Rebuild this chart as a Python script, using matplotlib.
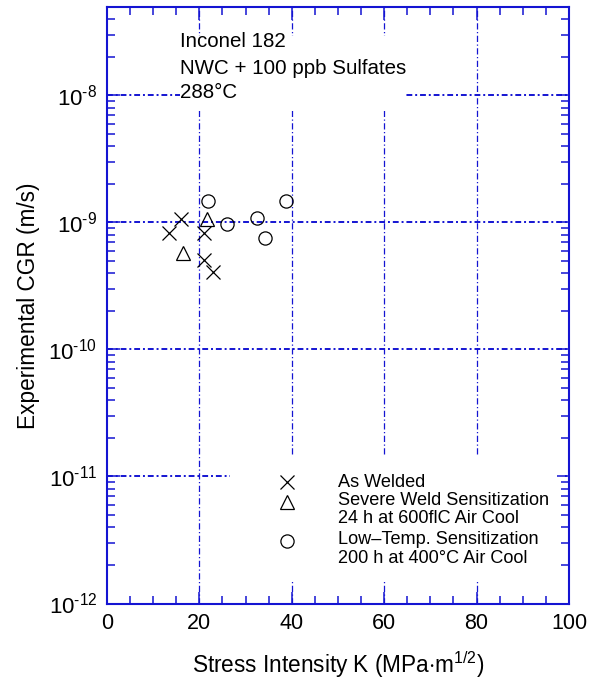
import numpy as np
import matplotlib
matplotlib.use("Agg")
import matplotlib.pyplot as plt
import matplotlib.transforms as mtransforms
from matplotlib.patches import Rectangle
from matplotlib.ticker import LogLocator, MultipleLocator, FixedLocator

plt.rcParams['font.family'] = ['Liberation Sans', 'DejaVu Sans']
plt.rcParams['mathtext.fontset'] = 'custom'
plt.rcParams['mathtext.rm'] = 'Liberation Sans'
plt.rcParams['mathtext.it'] = 'Liberation Sans'

# data
k_welded = [16.0, 13.4, 21.1, 20.9, 22.9]
cgr_welded = [1.07e-9, 0.83e-9, 0.83e-9, 0.51e-9, 0.41e-9]
k_severe = [21.6, 16.4]
cgr_severe = [1.07e-9, 0.57e-9]
k_lowtemp = [21.9, 26.0, 32.5, 34.2, 38.7]
cgr_lowtemp = [1.47e-9, 0.98e-9, 1.09e-9, 0.75e-9, 1.47e-9]

x_ticks = [0, 20, 40, 60, 80, 100]
y_ticks = [1e-12, 1e-11, 1e-10, 1e-9, 1e-8]
y_ticklabels = ['$10^{\u201012}$', '$10^{\u201011}$', '$10^{\u201010}$',
                '$10^{\u20109}$', '$10^{\u20108}$']

blue = '#1414d2'

fig = plt.figure(figsize=(5.95, 6.81), dpi=100)
ax = fig.add_axes([0.1798, 0.1138, 0.9563 - 0.1798, 0.989 - 0.1138])
ax.set_yscale('log')
ax.set_xlim(0, 100)
ax.set_ylim(1e-12, 4.93e-8)

# grid
for yv in y_ticks[1:]:
    ax.axhline(yv, color=blue, lw=1.4, ls=(0, (3, 1.5, 1, 1.5)), zorder=1)
for xv in x_ticks[1:-1]:
    ax.axvline(xv, color=blue, lw=0.9, ls=(0, (5, 2, 1, 2)), zorder=1)

# white areas behind the text block and the legend
trans = mtransforms.blended_transform_factory(ax.transData, ax.transAxes)
ax.add_patch(Rectangle((15.8, 0.8265), 48.6, 0.1265, transform=trans,
                       facecolor='white', edgecolor='none', zorder=1.5))
ax.add_patch(Rectangle((26.6, 0.0395), 72.0, 0.207, transform=trans,
                       facecolor='white', edgecolor='none', zorder=1.5))

ms = 9.5
ax.plot(k_welded, cgr_welded, ls='none', marker='x', ms=ms, mew=0.9,
        color='black', zorder=3)
ax.plot(k_severe, cgr_severe, ls='none', marker='^', ms=ms, mew=0.9,
        mfc='none', mec='black', zorder=3)
ax.plot(k_lowtemp, cgr_lowtemp, ls='none', marker='o', ms=ms, mew=0.9,
        mfc='none', mec='black', zorder=3)

# annotation
ax.text(15.9, 2.41e-8, 'Inconel 182', fontsize=14.8, va='baseline', zorder=4)
ax.text(15.9, 1.476e-8, 'NWC + 100 ppb Sulfates', fontsize=14.8, va='baseline', zorder=4)
ax.text(15.9, 0.955e-8, '288°C', fontsize=14.8, va='baseline', zorder=4)

# legend drawn by hand
leg_x = 39.0
txt_x = 50.0
ax.plot([leg_x], [9.1e-12], ls='none', marker='x', ms=ms, mew=0.9, color='black', zorder=3)
ax.plot([leg_x], [6.3e-12], ls='none', marker='^', ms=ms, mew=0.9,
        mfc='none', mec='black', zorder=3)
ax.plot([leg_x], [3.1e-12], ls='none', marker='o', ms=ms, mew=0.9,
        mfc='none', mec='black', zorder=3)
leg_lines = ['As Welded', 'Severe Weld Sensitization', '24 h at 600flC Air Cool',
             'Low\u2013Temp. Sensitization', '200 h at 400°C Air Cool']
leg_y = [8.3e-12, 5.97e-12, 4.28e-12, 2.93e-12, 2.10e-12]
for s, yv in zip(leg_lines, leg_y):
    ax.text(txt_x, yv, s, fontsize=13.1, va='baseline', zorder=4)

# axes styling
for sp in ax.spines.values():
    sp.set_color(blue)
    sp.set_linewidth(1.5)
ax.xaxis.set_major_locator(FixedLocator(x_ticks))
ax.xaxis.set_minor_locator(MultipleLocator(5))
ax.yaxis.set_major_locator(FixedLocator(y_ticks))
ax.yaxis.set_minor_locator(LogLocator(base=10, subs=np.arange(2, 10)))
ax.set_yticklabels(y_ticklabels)
ax.tick_params(which='both', direction='in', top=True, right=True, color=blue,
               width=1.1)
ax.tick_params(axis='x', labelsize=15.5)
ax.tick_params(axis='y', labelsize=16)
ax.tick_params(which='major', length=9, pad=7)
ax.tick_params(which='minor', length=6)
ax.tick_params(axis='y', which='minor', labelleft=False)

ax.set_xlabel(r'Stress Intensity K (MPa$\cdot$m$^{1/2}$)', fontsize=16.3, labelpad=11)
ax.set_ylabel('Experimental CGR (m/s)', fontsize=16.3, labelpad=6)

fig.savefig('out.png', dpi=100)
